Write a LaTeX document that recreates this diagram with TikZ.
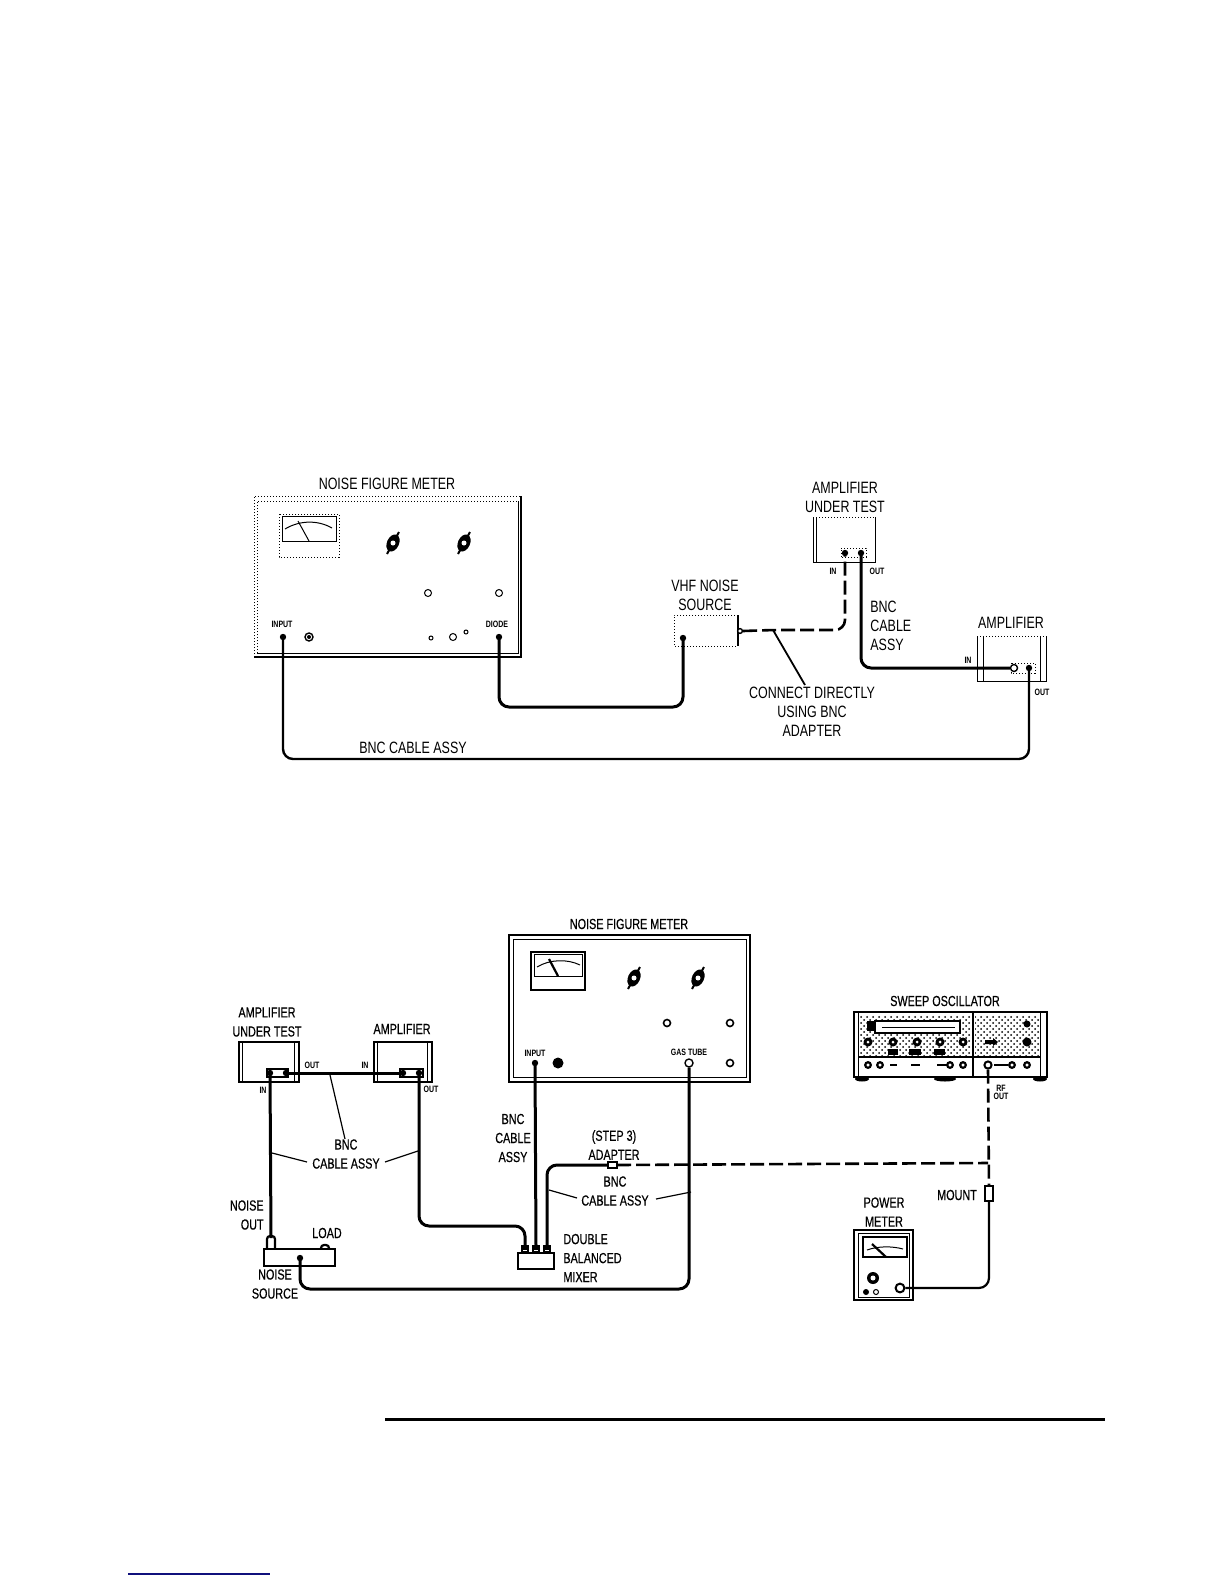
\documentclass[tikz,border=0pt]{standalone}
\usepackage{fontspec}
\setmainfont[FakeStretch=0.76]{Liberation Sans}
\newfontfamily\lowerfont[FakeStretch=0.74,FakeBold=0.5]{Liberation Sans}
\usetikzlibrary{patterns}
\definecolor{rulenavy}{HTML}{10107C}
\tikzset{
  cable/.style={line width=1.5pt, rounded corners=5pt},
  dashcable/.style={line width=1.3pt, dash pattern=on 7pt off 2.5pt, rounded corners=5pt},
  leader/.style={line width=0.6pt},
  panel/.style={line width=0.5pt},
  panelheavy/.style={line width=1.1pt},
  panellight/.style={line width=0.5pt, densely dotted},
  jack/.style={circle, fill=black, inner sep=0pt, minimum size=3.2pt},
  port/.style={circle, draw, fill=white, line width=0.7pt, inner sep=0pt, minimum size=4pt},
  lbl/.style={font=\fontsize{8.2}{9}\selectfont, inner sep=0pt, align=center},
  lblb/.style={font=\lowerfont\fontsize{7.3}{9}\selectfont, inner sep=0pt, align=center},
  tag/.style={font=\bfseries\fontsize{4.6}{5}\selectfont, inner sep=0pt, align=center},
}
\newcommand{\knobmark}[3]{%
  \fill[rotate around={#3:(#1,#2)}] (#1,#2) ellipse (6 and 9);
  \draw[line width=1pt] (#1-6,#2+11) -- (#1+6,#2-11);
  \fill[white] (#1,#2) circle (2.5);
}
\begin{document}
\begin{tikzpicture}[x=0.5pt, y=-0.5pt]
  \useasboundingbox (0,0) rectangle (1224,1584);
  \fill[white] (0,0) rectangle (1224,1584);

  % upper setup: meter
  \draw[panellight] (254,657) -- (254,496) -- (521,496);
  \draw[panelheavy] (521,496) -- (521,657) -- (254,657);
  \draw[panellight] (257,653) -- (257,501) -- (518,501);
  \draw[panel] (518,501) -- (518,653) -- (257,653);
  \draw[panellight] (279,514) rectangle (339,557);
  \draw[panel] (282,516) rectangle (336,541);
  \draw[panel] (285,529) .. controls (300,520) and (318,520) .. (332,528);
  \draw[panel] (298,521) -- (309,541);
  \knobmark{393}{543}{-25}
  \knobmark{464}{543}{-25}
  \draw[panel] (428,593) circle (3.5);
  \draw[panel] (499,593) circle (3.5);
  \draw[panel] (431,638) circle (2);
  \draw[panel] (453,637) circle (3.5);
  \draw[panel] (466,632) circle (2);
  \node[port] (jackA) at (309,637) {};
  \fill (309,637) circle (2);
  \node[tag] (inputAtxt) at (282,624) {INPUT};
  \node[tag] (diodeAtxt) at (497,624) {DIODE};
  \node[jack] (inputA) at (283,637) {};
  \node[jack] (diodeA) at (499,637) {};
  \node[lbl] (meterAtxt) at (387,484) {NOISE FIGURE METER};

  % upper setup: source
  \draw[panellight] (738,615) -- (674,615) -- (674,646) -- (738,646);
  \draw[panelheavy] (738,615) -- (738,646);
  \node[lbl] (vhfAtxt) at (705,595) {VHF NOISE\\[0.5pt]SOURCE};
  \node[jack] (vhfjack) at (683,638) {};
  \node[port, minimum size=2.4pt] (vhfout) at (740,631) {};

  % upper setup: amplifier under test
  \draw[panellight] (813,517) -- (875,517);
  \draw[panel] (813,517) -- (813,562) -- (875,562) -- (875,517);
  \draw[panel] (816,517) -- (816,562);
  \draw[panellight] (841,557) -- (841,548) -- (866,548) -- (866,557) -- cycle;
  \node[jack] (autinA) at (845,553) {};
  \node[jack] (autoutA) at (861,553) {};
  \node[lbl] (autAtxt) at (845,497) {AMPLIFIER\\[0.5pt]UNDER TEST};
  \node[tag] (autinAtxt) at (833,571) {IN};
  \node[tag] (autoutAtxt) at (877,571) {OUT};

  % upper setup: second amplifier
  \draw[panellight] (977,636) -- (1046,636);
  \draw[panel] (977,636) -- (977,681) -- (1046,681) -- (1046,636);
  \draw[panel] (983,636) -- (983,681) (1040,636) -- (1040,681);
  \draw[panellight] (1011,663) rectangle (1035,673);
  \node[port, minimum size=3.5pt] (ampinA) at (1014,668) {};
  \node[jack] (ampoutA) at (1029,668) {};
  \node[lbl] (ampAtxt) at (1011,623) {AMPLIFIER};
  \node[tag] (ampinAtxt) at (968,660) {IN};
  \node[tag] (ampoutAtxt) at (1042,692) {OUT};

  % upper setup: cables
  \coordinate (diodeB) at (600,707);
  \coordinate (longB) at (650,759);
  \coordinate (adapterA) at (773,630);
  \draw[cable] (diodeA.center) |- (diodeB) -| (vhfjack.center);
  \draw[cable, line width=1.2pt] (inputA.center) |- (longB) -| (ampoutA.center);
  \draw[cable] (autoutA.center) |- (ampinA.west);
  \draw[dashcable] (vhfout.east) -- (adapterA) -| (autinA.center);
  \node[lbl] (bncAtxt) at (413,748) {BNC CABLE ASSY};
  \node[lbl, align=left, anchor=west] (cableAtxt) at (870,625.5) {BNC\\[0.5pt]CABLE\\[0.5pt]ASSY};
  \node[lbl] (directAtxt) at (812,712) {CONNECT DIRECTLY\\[0.5pt]USING BNC\\[0.5pt]ADAPTER};
  \coordinate (directA) at (805,685);
  \draw[leader, line width=0.9pt] (adapterA) -- (directA);

  % lower setup: meter
  \draw[panelheavy] (509,935) rectangle (750,1082);
  \draw[panel] (513,939) rectangle (746,1077);
  \draw[panelheavy] (531,952) rectangle (585,990);
  \draw[panel] (534,954) rectangle (582,976);
  \draw[panel] (537,967) .. controls (550,959) and (568,959) .. (580,965);
  \draw[panelheavy] (549,959) -- (558,976);
  \knobmark{634}{978}{-25}
  \knobmark{698}{978}{-25}
  \draw[panel, line width=0.8pt] (667,1023) circle (3.5);
  \draw[panel, line width=0.8pt] (730,1023) circle (3.5);
  \draw[panel, line width=0.8pt] (730,1063) circle (3.5);
  \fill (558,1063) circle (5.5);
  \node[tag] (inputBtxt) at (535,1053) {INPUT};
  \node[tag] (gasBtxt) at (689,1052) {GAS TUBE};
  \node[jack] (inputB) at (535,1063) {};
  \node[port] (gasB) at (689,1063) {};
  \node[lblb] (meterBtxt) at (629,924) {NOISE FIGURE METER};

  % lower setup: amplifiers
  \draw[panelheavy] (239,1042) rectangle (299,1082);
  \draw[panel] (242,1042) -- (242,1082) (294,1042) -- (294,1082);
  \draw[panelheavy] (267,1069) rectangle (288,1077);
  \node[jack] (autinB) at (270,1073) {};
  \node[jack] (autoutB) at (286,1073) {};
  \draw[panelheavy] (374,1042) rectangle (432,1082);
  \draw[panel] (377,1042) -- (377,1082) (427,1042) -- (427,1082);
  \draw[panelheavy] (400,1069) rectangle (423,1077);
  \node[jack] (ampinB) at (403,1073) {};
  \node[jack] (ampoutB) at (419,1073) {};
  \node[lblb] (autBtxt) at (267,1022) {AMPLIFIER\\[0.5pt]UNDER TEST};
  \node[lblb] (ampBtxt) at (402,1029) {AMPLIFIER};
  \node[tag] (autoutBtxt) at (312,1065) {OUT};
  \node[tag] (ampinBtxt) at (365,1065) {IN};
  \node[tag] (autinBtxt) at (263,1090) {IN};
  \node[tag] (ampoutBtxt) at (431,1089) {OUT};

  % lower setup: noise source and mixer
  \draw[panelheavy] (264,1249) rectangle (335,1266);
  \draw[panelheavy, rounded corners=1.5pt] (267,1249) -- (267,1236) -- (275,1236) -- (275,1249);
  \draw[panelheavy, rounded corners=1.5pt] (321,1249) -- (321,1245) -- (329,1245) -- (329,1249);
  \coordinate (noiseout) at (271,1238);
  \node[jack] (sourcejack) at (300,1258) {};
  \draw[panelheavy] (518,1253) rectangle (554,1269);
  \foreach \x/\name in {525/mixa, 536/mixb, 547/mixc}{
    \draw[line width=0.9pt, fill=black] (\x-3.5,1253) -- (\x-3.5,1246) -- (\x+3.5,1246) -- (\x+3.5,1253);
    \draw[white, line width=0.5pt] (\x-2,1250) -- (\x+2,1250);
    \coordinate (\name) at (\x,1246);
  }
  \node[lblb] (loadtxt) at (327,1233) {LOAD};
  \node[lblb, align=right, anchor=east] (noiseBtxt) at (264,1215) {NOISE\\[0.5pt]OUT};
  \node[lblb] (sourceBtxt) at (275,1284) {NOISE\\[0.5pt]SOURCE};
  \node[lblb, align=left, anchor=west] (mixtxt) at (563,1258) {DOUBLE\\[0.5pt]BALANCED\\[0.5pt]MIXER};

  % lower setup: sweep oscillator
  \fill[pattern=crosshatch dots] (860,1015) rectangle (971,1055);
  \fill[pattern=crosshatch dots] (975,1015) rectangle (1040,1055);
  \draw[panelheavy] (854,1012) rectangle (1047,1077);
  \draw[panel] (858,1012) -- (858,1077) (1040,1012) -- (1040,1077);
  \draw[panelheavy] (973,1012) -- (973,1077) (858,1057) -- (1040,1057);
  \draw[panelheavy, fill=white] (875,1021) rectangle (960,1033);
  \draw[panel] (882,1027) -- (955,1027);
  \fill (867,1021) rectangle (875,1031);
  \foreach \x in {868,893,917,940,963}{
    \fill (\x,1042) circle (4.5);
    \fill[white] (\x,1042) circle (1.5);
  }
  \fill (888,1049) rectangle (898,1055);
  \fill (909,1049) rectangle (921,1055);
  \fill (934,1049) rectangle (945,1055);
  \foreach \x in {868,880,950,963,1012,1027}{
    \draw[line width=1.1pt, fill=white] (\x,1065) circle (2.8);
  }
  \draw[line width=1pt] (890,1065) -- (897,1065) (911,1065) -- (920,1065) (937,1065) -- (947,1065) (994,1065) -- (1008,1065);
  \fill (985,1040) -- (993,1040) -- (993,1038) -- (998,1042) -- (993,1046) -- (993,1044) -- (985,1044) -- cycle;
  \fill (1027,1024) circle (3.5);
  \fill (1027,1042) circle (4.5);
  \fill (862,1079) ellipse (7 and 2.5);
  \fill (945,1079) ellipse (11 and 2.5);
  \fill (1040,1079) ellipse (7 and 2.5);
  \node[port, line width=1pt, minimum size=3.6pt] (rfout) at (988,1065) {};
  \node[lblb] (sweeptxt) at (945,1001) {SWEEP OSCILLATOR};
  \node[tag] (rftxt) at (1001,1092) {RF\\[-1pt]OUT};

  % lower setup: power meter
  \draw[panelheavy] (854,1230) rectangle (913,1300);
  \draw[panel] (858,1233) rectangle (909,1297);
  \draw[panelheavy] (863,1237) rectangle (907,1257);
  \draw[panel] (867,1250) .. controls (878,1246) and (892,1246) .. (903,1249);
  \draw[panelheavy] (872,1244) -- (886,1257);
  \fill (873,1278) circle (6);
  \fill[white] (873,1278) circle (2.5);
  \fill (866,1292) circle (3);
  \draw[panel] (876,1292) circle (2.5);
  \node[port, line width=1pt, minimum size=4.4pt] (powerjack) at (900,1288) {};
  \node[lblb] (powertxt) at (884,1212) {POWER\\[0.5pt]METER};
  \draw[panelheavy, fill=white] (985,1186) rectangle (993,1201);
  \coordinate (mountT) at (989,1186);
  \coordinate (mountB) at (989,1201);
  \node[lblb] (mounttxt) at (957,1195) {MOUNT};

  % lower setup: cables
  \draw[cable] (autoutB.center) -- (ampinB.center);
  \draw[cable] (autinB.center) -- (noiseout);
  \coordinate (lowB) at (500,1226);
  \coordinate (lowC) at (500,1289);
  \draw[cable] (ampoutB.center) |- (lowB) -| (mixa);
  \draw[cable] (inputB.center) -- (mixb);
  \draw[cable] (sourcejack.center) |- (lowC) -| (gasB.south);
  \draw[cable, line width=1.1pt] (powerjack.east) -| (mountB);
  \draw[panelheavy, fill=white] (608,1162) rectangle (617,1168);
  \coordinate (adapterW) at (608,1165);
  \coordinate (adapterE) at (617,1165);
  \coordinate (crossB) at (988,1163);
  \draw[cable] (mixc) |- (adapterW);
  \draw[dashcable] (adapterE) -- (crossB);
  \draw[dashcable] (rfout.south) -- (mountT);
  \node[lblb] (bncBtxt) at (513,1138) {BNC\\[0.5pt]CABLE\\[0.5pt]ASSY};
  \node[lblb] (adaptertxt) at (614,1145) {(STEP 3)\\[0.5pt]ADAPTER};
  \node[lblb] (bncCtxt) at (615,1191) {BNC\\[0.5pt]CABLE ASSY};
  \node[lblb] (bncDtxt) at (346,1154) {BNC\\[0.5pt]CABLE ASSY};
  \coordinate (leadA) at (330,1075);
  \coordinate (leadB) at (272,1153);
  \coordinate (leadC) at (418,1151);
  \coordinate (leadD) at (549,1190);
  \coordinate (leadE) at (691,1192);
  \draw[leader] (leadA) -- (345,1139);
  \draw[leader] (leadB) -- (307,1162);
  \draw[leader] (385,1162) -- (leadC);
  \draw[leader] (leadD) -- (577,1198);
  \draw[leader] (656,1199) -- (leadE);

  % page rules
  \draw[line width=1.5pt] (385,1419) -- (1105,1419);
  \draw[rulenavy, line width=1pt] (128,1574) -- (270,1574);
\end{tikzpicture}
\end{document}
